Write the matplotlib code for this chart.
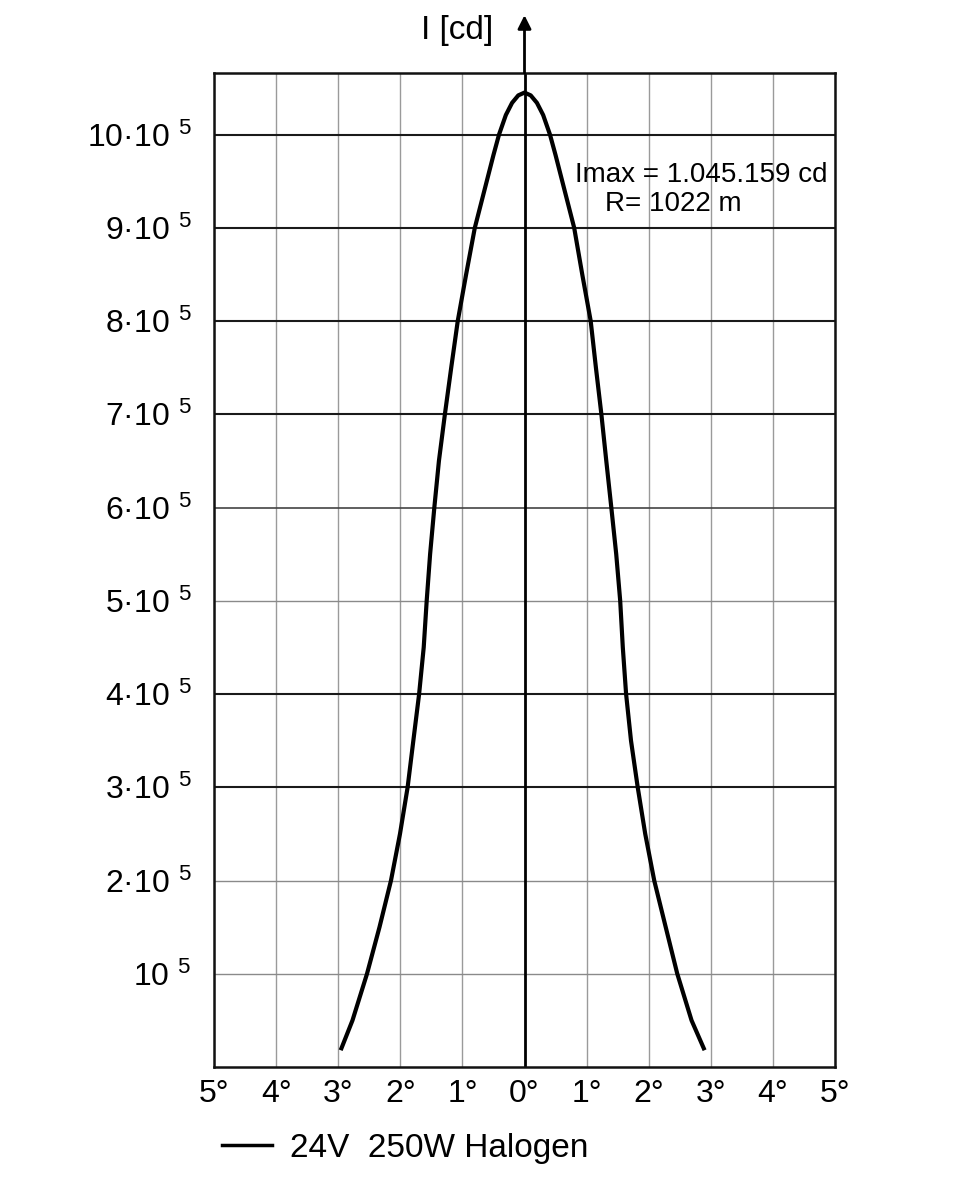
import matplotlib
matplotlib.use('Agg')
import matplotlib.pyplot as plt
from matplotlib.lines import Line2D

# beam angle [deg] vs luminous intensity [10^5 cd]
ang_left = [-2.96, -2.77, -2.536, -2.335, -2.15, -2.005, -1.882, -1.79, -1.697, -1.623,
            -1.575, -1.52, -1.452, -1.378, -1.282, -1.18, -1.075, -0.94, -0.8,
            -0.6, -0.5, -0.41, -0.3, -0.2, -0.1, 0.0]
int_left = [0.18, 0.5, 1.0, 1.5, 2.0, 2.5, 3.0, 3.5, 4.0, 4.5,
            5.0, 5.5, 6.0, 6.5, 7.0, 7.5, 8.0, 8.5, 9.0,
            9.52, 9.78, 10.0, 10.21, 10.34, 10.42, 10.45]
ang_right = [0.0, 0.1, 0.2, 0.3, 0.41, 0.5, 0.6, 0.8, 0.93, 1.066, 1.15, 1.238,
             1.317, 1.398, 1.477, 1.541, 1.583, 1.636, 1.715, 1.823, 1.944,
             2.089, 2.274, 2.46, 2.69, 2.90]
int_right = [10.45, 10.42, 10.34, 10.21, 10.0, 9.78, 9.52, 9.0, 8.5, 8.0, 7.5, 7.0,
             6.5, 6.0, 5.5, 5.0, 4.5, 4.0, 3.5, 3.0, 2.5,
             2.0, 1.5, 1.0, 0.5, 0.18]

xticks = [-5, -4, -3, -2, -1, 0, 1, 2, 3, 4, 5]
xlabels = ['5°', '4°', '3°', '2°', '1°', '0°', '1°', '2°', '3°', '4°', '5°']
yticks = [1, 2, 3, 4, 5, 6, 7, 8, 9, 10]
ylabels = ['10', '2·10', '3·10', '4·10', '5·10', '6·10', '7·10', '8·10', '9·10', '10·10']
dark_rows = [3, 4, 7, 8, 9, 10]
mid_rows = [6]

legend_label = '24V  250W Halogen'
note1 = 'Imax = 1.045.159 cd'
note2 = 'R= 1022 m'

plt.rcParams['font.family'] = ['Liberation Sans', 'DejaVu Sans']
plt.rcParams['mathtext.fontset'] = 'custom'
plt.rcParams['mathtext.rm'] = 'Liberation Sans'

fig = plt.figure(figsize=(9.6, 11.86), dpi=100)
ax = fig.add_axes([214/960, 1-1067/1186, 621/960, 994/1186])

ax.set_xlim(-5, 5)
ax.set_ylim(0, 10.66)

for x in xticks:
    if x == 0:
        continue
    ax.axvline(x, color='#9a9a9a', lw=1.0, zorder=1)
for y in yticks:
    if y in dark_rows:
        ax.axhline(y, color='#1a1a1a', lw=1.5, zorder=1)
    elif y in mid_rows:
        ax.axhline(y, color='#444444', lw=1.2, zorder=1)
    else:
        ax.axhline(y, color='#8a8a8a', lw=1.0, zorder=1)
ax.axvline(0, color='black', lw=2.0, zorder=2)

ax.plot(ang_left + ang_right[1:], int_left + int_right[1:], color='black', lw=3.0,
        solid_joinstyle='round', solid_capstyle='butt', zorder=3)

for s in ax.spines.values():
    s.set_linewidth(1.8)
    s.set_color('#111111')

ax.set_xticks(xticks)
ax.set_xticklabels(xlabels, fontsize=23)
ax.set_yticks(yticks)
ax.set_yticklabels([l + r' $\mathregular{^{5}}$' for l in ylabels], fontsize=23)
ax.tick_params(axis='both', length=0)
ax.tick_params(axis='x', pad=9)
ax.tick_params(axis='y', pad=16)

# y axis arrow above the frame
ax.annotate('', xy=(0, 11.28), xytext=(0, 10.66), xycoords='data',
            arrowprops=dict(arrowstyle='-|>', lw=2, color='black', mutation_scale=20,
                            shrinkA=0, shrinkB=0), annotation_clip=False)
fig.text(493/960, 1-31/1186, 'I [cd]', ha='right', va='center', fontsize=24)

ax.text(0.813, 9.57, note1, ha='left', va='center', fontsize=20)
ax.text(1.296, 9.25, note2, ha='left', va='center', fontsize=20)

h = Line2D([], [], color='black', lw=2.5)
fig.legend([h], [legend_label], loc='center left', bbox_to_anchor=(222/960, 1-1148/1186),
           frameon=False, borderpad=0, borderaxespad=0, handlelength=1.5, handletextpad=0.55,
           prop={'size': 24})

fig.savefig('out.png', dpi=100, facecolor='white')
